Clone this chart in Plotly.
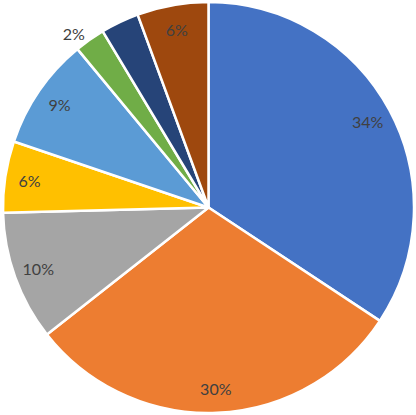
import plotly.graph_objects as go

categories = ["A", "B", "C", "D", "E", "F", "G", "H"]
values = [34.3, 30.1, 10.2, 5.6, 8.8, 2.4, 3.0, 5.6]
colors = ["#4472C4", "#ED7D31", "#A5A5A5", "#FFC000", "#5B9BD5", "#70AD47", "#264478", "#9E480E"]
text_colors = ["#404040"] * 6 + ["#264478", "#404040"]
positions = ["inside"] * 5 + ["outside"] + ["inside"] * 2

common = dict(labels=categories, values=values, sort=False, direction="clockwise",
              rotation=0, automargin=False, showlegend=False)

fig = go.Figure()
fig.add_trace(go.Pie(
    **common,
    marker=dict(colors=colors, line=dict(color="white", width=2.5)),
    textinfo="none",
    hoverinfo="label+percent",
))
fig.add_trace(go.Pie(
    **common,
    hole=0.76,
    marker=dict(colors=["rgba(0,0,0,0)"] * len(values), line=dict(width=0)),
    texttemplate="%{percent:.0%}",
    textposition=positions,
    insidetextorientation="horizontal",
    textfont=dict(family="Lato", size=16, color=text_colors),
    outsidetextfont=dict(family="Lato", size=16, color="#404040"),
    hoverinfo="skip",
))
fig.update_layout(
    width=416, height=415,
    margin=dict(l=2, r=1, t=2, b=2, autoexpand=False),
    paper_bgcolor="white",
    plot_bgcolor="white",
    uniformtext=dict(minsize=16, mode="show"),
)
fig.write_html("out.html", config={"displayModeBar": False},
               post_script="document.body.style.margin='0';")
